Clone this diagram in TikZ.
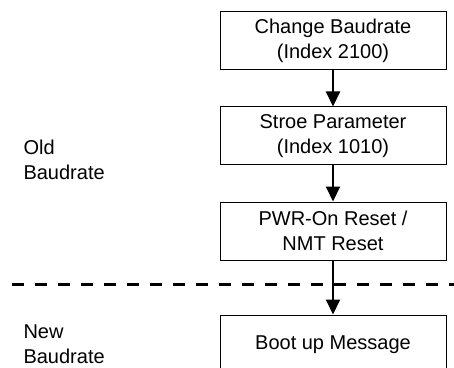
\documentclass[tikz,border=0pt]{standalone}
\usepackage{fontspec}
\setmainfont{Liberation Sans}
\usetikzlibrary{positioning,arrows.meta}

\begin{document}
\begin{tikzpicture}[x=1pt,y=1pt,node distance=36pt,
  every node/.style={font=\fontsize{20}{25}\selectfont},
  stepbox/.style={draw, line width=1pt, minimum width=226pt, minimum height=58pt, align=center},
  sidelabel/.style={anchor=west, align=left},
  flow/.style={-{Triangle[length=15pt,width=14pt]}, line width=2pt}]

  \useasboundingbox (0,0) rectangle (454,367);

  \node[stepbox] (change) at (333,326) {Change Baudrate\\(Index 2100)};
  \node[stepbox, below=of change] (store) {Stroe Parameter\\(Index 1010)};
  \node[stepbox, below=of store] (reset) {PWR-On Reset /\\NMT Reset};
  \node[stepbox, minimum height=60pt, below=54pt of reset] (boot) {Boot up Message};

  \node[sidelabel] (old) at (20,207) {Old\\Baudrate};
  \node[sidelabel] (new) at (20,23) {New\\Baudrate};

  % border between old and new baudrate
  \coordinate (dashL) at (12,83);
  \coordinate (dashR) at (454,83);
  \draw[line width=3pt, dash pattern=on 12pt off 11pt] (dashL) -- (dashR);

  \draw[flow] (change) -- (store);
  \draw[flow] (store) -- (reset);
  \draw[flow] (reset) -- (boot);
\end{tikzpicture}
\end{document}
